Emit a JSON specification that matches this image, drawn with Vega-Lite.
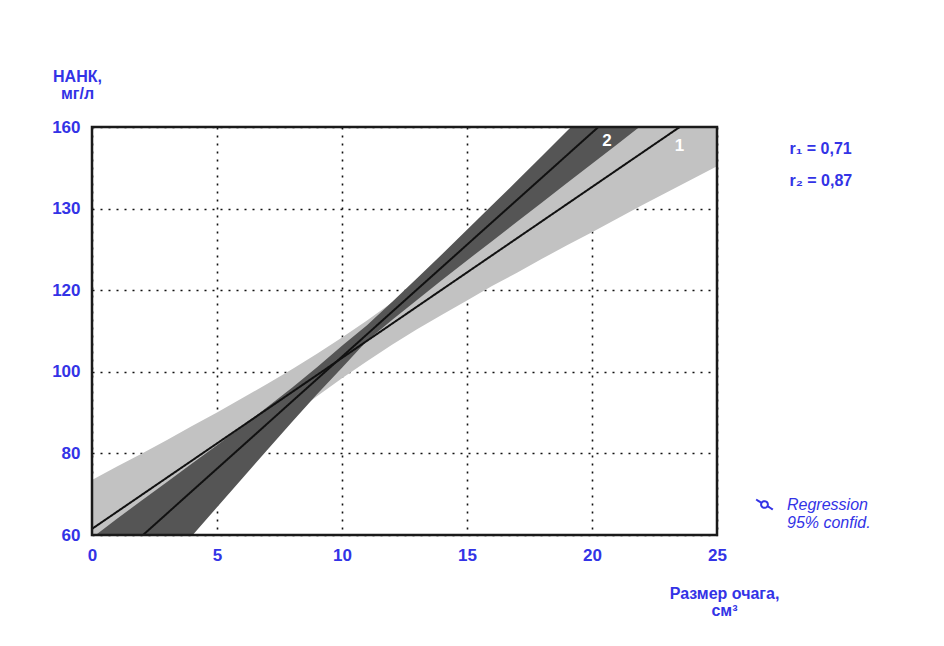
{
  "$schema": "https://vega.github.io/schema/vega-lite/v6.json",
  "width": 625,
  "height": 408,
  "autosize": "none",
  "padding": {"left": 92, "top": 127, "right": 227, "bottom": 111},
  "background": "white",
  "config": {
    "view": {"stroke": null},
    "font": "Liberation Sans",
    "axis": {
      "labelFont": "Liberation Sans",
      "labelFontSize": 17,
      "labelFontWeight": "bold",
      "labelColor": "#3333e6",
      "labelFlush": false,
      "titleFont": "Liberation Sans",
      "titleColor": "#3333e6",
      "titleFontWeight": "bold",
      "titleFontSize": 16,
      "domain": false,
      "ticks": false,
      "grid": true,
      "gridColor": "#111",
      "gridDash": [2, 6],
      "gridWidth": 1.6,
      "gridOpacity": 1,
      "zindex": 1
    },
    "legend": {
      "symbolStrokeColor": "#3333e6"
    }
  },
  "datasets": {
    "band1": [
      {"x": 0, "lo1": 49.5, "hi1": 73.5},
      {"x": 1, "lo1": 54.6, "hi1": 76.8},
      {"x": 2, "lo1": 59.7, "hi1": 80.0},
      {"x": 3, "lo1": 64.8, "hi1": 83.3},
      {"x": 4, "lo1": 69.9, "hi1": 86.7},
      {"x": 5, "lo1": 74.9, "hi1": 90.0},
      {"x": 6, "lo1": 79.8, "hi1": 93.5},
      {"x": 7, "lo1": 84.7, "hi1": 97.0},
      {"x": 8, "lo1": 89.4, "hi1": 100.6},
      {"x": 9, "lo1": 94.0, "hi1": 104.4},
      {"x": 10, "lo1": 98.4, "hi1": 108.4},
      {"x": 11, "lo1": 102.6, "hi1": 112.6},
      {"x": 12, "lo1": 106.6, "hi1": 117.0},
      {"x": 13, "lo1": 110.4, "hi1": 121.6},
      {"x": 14, "lo1": 114.0, "hi1": 126.3},
      {"x": 15, "lo1": 117.5, "hi1": 131.2},
      {"x": 16, "lo1": 121.0, "hi1": 136.1},
      {"x": 17, "lo1": 124.3, "hi1": 141.1},
      {"x": 18, "lo1": 127.7, "hi1": 146.2},
      {"x": 19, "lo1": 131.0, "hi1": 151.3},
      {"x": 20, "lo1": 134.2, "hi1": 156.4},
      {"x": 21, "lo1": 137.5, "hi1": 161.5},
      {"x": 22, "lo1": 140.8, "hi1": 166.6},
      {"x": 23, "lo1": 144.0, "hi1": 171.8},
      {"x": 24, "lo1": 147.2, "hi1": 177.0},
      {"x": 25, "lo1": 150.4, "hi1": 182.1}
    ],
    "band2": [
      {"x": 0, "lo2": 30.5, "hi2": 59.3},
      {"x": 1, "lo2": 38.0, "hi2": 64.0},
      {"x": 2, "lo2": 45.5, "hi2": 68.5},
      {"x": 3, "lo2": 52.8, "hi2": 73.0},
      {"x": 4, "lo2": 59.8, "hi2": 77.5},
      {"x": 5, "lo2": 66.8, "hi2": 82.0},
      {"x": 6, "lo2": 73.8, "hi2": 86.6},
      {"x": 7, "lo2": 80.8, "hi2": 91.3},
      {"x": 8, "lo2": 87.7, "hi2": 96.1},
      {"x": 9, "lo2": 94.5, "hi2": 101.1},
      {"x": 10, "lo2": 101.0, "hi2": 106.4},
      {"x": 11, "lo2": 107.6, "hi2": 111.4},
      {"x": 12, "lo2": 112.7, "hi2": 117.1},
      {"x": 13, "lo2": 117.6, "hi2": 122.9},
      {"x": 14, "lo2": 122.5, "hi2": 128.8},
      {"x": 15, "lo2": 127.3, "hi2": 134.8},
      {"x": 16, "lo2": 132.0, "hi2": 140.8},
      {"x": 17, "lo2": 136.8, "hi2": 146.8},
      {"x": 18, "lo2": 141.5, "hi2": 152.9},
      {"x": 19, "lo2": 146.3, "hi2": 159.0},
      {"x": 20, "lo2": 151.0, "hi2": 165.1},
      {"x": 21, "lo2": 155.7, "hi2": 171.1},
      {"x": 22, "lo2": 160.5, "hi2": 177.2},
      {"x": 23, "lo2": 165.2, "hi2": 183.3}
    ],
    "lines": [
      {"series": "1", "x": 0, "y": 61.5},
      {"series": "1", "x": 25, "y": 166.25},
      {"series": "2", "x": 0, "y": 48.8},
      {"series": "2", "x": 25, "y": 186.05}
    ]
  },
  "layer": [
    {
      "data": {"name": "band1"},
      "mark": {"type": "area", "clip": true, "color": "#c2c2c2", "opacity": 1},
      "encoding": {
        "x": {
          "field": "x", "type": "quantitative",
          "scale": {"domain": [0, 25], "nice": false, "zero": false},
          "axis": {
            "values": [0, 5, 10, 15, 20, 25],
            "labelPadding": 12,
            "title": ["Размер очага,", "см³"],
            "titleAnchor": "start",
            "titleAlign": "center",
            "titleBaseline": "alphabetic",
            "titleX": 632,
            "titleY": 63,
            "titleLineHeight": 17
          }
        },
        "y": {
          "field": "lo1", "type": "quantitative",
          "scale": {"domain": [60, 160], "nice": false, "zero": false},
          "axis": {
            "values": [60, 80, 100, 120, 140, 160],
            "labelExpr": "datum.value == 140 ? '130' : datum.label",
            "labelPadding": 12,
            "title": ["НАНК,", "мг/л"],
            "titleAngle": 0,
            "titleAlign": "center",
            "titleBaseline": "alphabetic",
            "titleX": -15,
            "titleY": -46,
            "titleLineHeight": 17
          }
        },
        "y2": {"field": "hi1"}
      }
    },
    {
      "data": {"name": "band2"},
      "mark": {"type": "area", "clip": true, "color": "#555555", "opacity": 1},
      "encoding": {
        "x": {"field": "x", "type": "quantitative"},
        "y": {"field": "lo2", "type": "quantitative"},
        "y2": {"field": "hi2"}
      }
    },
    {
      "data": {"name": "lines"},
      "mark": {"type": "line", "clip": true, "strokeWidth": 2, "stroke": "#111111"},
      "encoding": {
        "x": {"field": "x", "type": "quantitative"},
        "y": {"field": "y", "type": "quantitative"},
        "detail": {"field": "series"},
        "strokeDash": {
          "datum": "Regression",
          "scale": {"range": [[1, 0]]},
          "legend": {
            "orient": "none",
            "legendX": 663,
            "legendY": 368,
            "title": null,
            "labelExpr": "['Regression', '95% confid.']",
            "labelFont": "Liberation Sans",
            "labelFontSize": 16,
            "labelFontStyle": "italic",
            "labelColor": "#3333e6",
            "labelOffset": 13,
            "symbolType": "M-1,-0.6L-0.35,-0.2M0.35,0.2L1,0.6M-0.35,-0.2A0.4,0.4 0 1,0 0.35,0.2A0.4,0.4 0 1,0 -0.35,-0.2",
            "symbolSize": 280,
            "symbolStrokeWidth": 2,
            "symbolStrokeColor": "#3333e6",
            "symbolFillColor": "transparent"
          }
        }
      }
    },
    {
      "data": {"values": [{}]},
      "mark": {"type": "text", "font": "Liberation Sans", "fontSize": 17, "fontWeight": "bold", "color": "white", "align": "center", "baseline": "middle"},
      "encoding": {
        "x": {"datum": 20.6, "type": "quantitative"},
        "y": {"datum": 156.6, "type": "quantitative"},
        "text": {"value": "2"}
      }
    },
    {
      "data": {"values": [{}]},
      "mark": {"type": "text", "font": "Liberation Sans", "fontSize": 17, "fontWeight": "bold", "color": "white", "align": "center", "baseline": "middle"},
      "encoding": {
        "x": {"datum": 23.5, "type": "quantitative"},
        "y": {"datum": 155.3, "type": "quantitative"},
        "text": {"value": "1"}
      }
    },
    {
      "data": {"values": [{}]},
      "mark": {"type": "text", "font": "Liberation Sans", "fontSize": 16, "fontWeight": "bold", "color": "#3333e6", "align": "left", "baseline": "middle", "clip": false},
      "encoding": {
        "x": {"datum": 27.9, "type": "quantitative"},
        "y": {"datum": 154.6, "type": "quantitative"},
        "text": {"value": "r₁ = 0,71"}
      }
    },
    {
      "data": {"values": [{}]},
      "mark": {"type": "text", "font": "Liberation Sans", "fontSize": 16, "fontWeight": "bold", "color": "#3333e6", "align": "left", "baseline": "middle", "clip": false},
      "encoding": {
        "x": {"datum": 27.9, "type": "quantitative"},
        "y": {"datum": 146.8, "type": "quantitative"},
        "text": {"value": "r₂ = 0,87"}
      }
    },
    {
      "data": {"values": [{}]},
      "mark": {"type": "rect", "filled": false, "stroke": "#1a1a1a", "strokeWidth": 2.5},
      "encoding": {
        "x": {"datum": 0, "type": "quantitative"},
        "x2": {"datum": 25},
        "y": {"datum": 60, "type": "quantitative"},
        "y2": {"datum": 160}
      }
    }
  ]
}
